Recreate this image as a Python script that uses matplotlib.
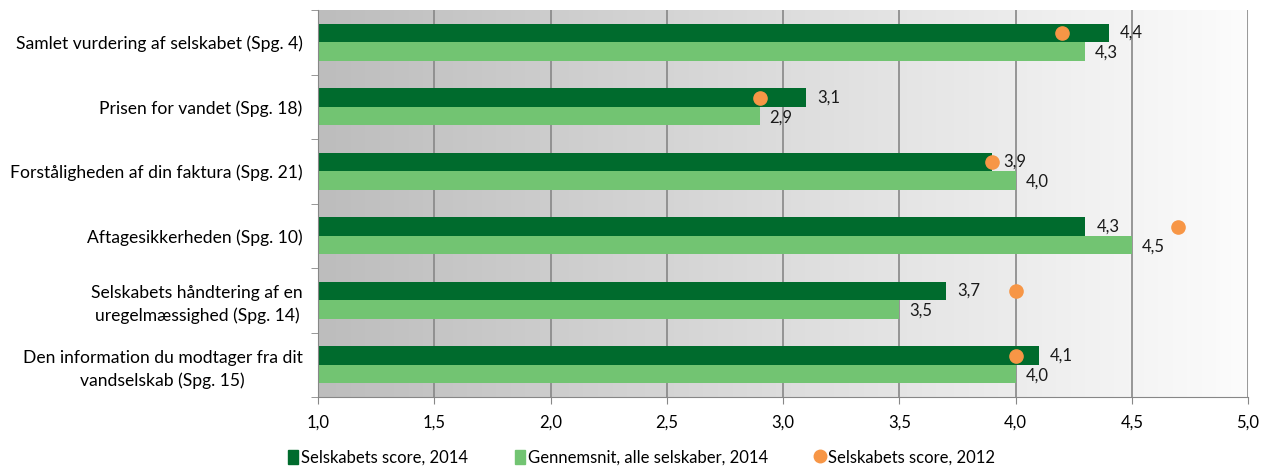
import numpy as np
import matplotlib.pyplot as plt
from matplotlib.colors import LinearSegmentedColormap
from matplotlib.lines import Line2D
from matplotlib.patches import Patch

categories = [
    "Samlet vurdering af selskabet (Spg. 4)",
    "Prisen for vandet (Spg. 18)",
    "Forståligheden af din faktura (Spg. 21)",
    "Aftagesikkerheden (Spg. 10)",
    "Selskabets håndtering af en\nuregelmæssighed (Spg. 14)",
    "Den information du modtager fra dit\nvandselskab (Spg. 15)",
]
score_2014 = [4.4, 3.1, 3.9, 4.3, 3.7, 4.1]
avg_2014 = [4.3, 2.9, 4.0, 4.5, 3.5, 4.0]
score_2012 = [4.2, 2.9, 3.9, 4.7, 4.0, 4.0]
x_ticks = [1.0, 1.5, 2.0, 2.5, 3.0, 3.5, 4.0, 4.5, 5.0]

DARK = "#006B2D"
LIGHT = "#72C472"
ORANGE = "#F79646"
FS = 12

plt.rcParams["font.family"] = ["Lato", "DejaVu Sans"]


def fmt(v):
    return f"{v:.1f}".replace(".", ",")


fig = plt.figure(figsize=(12.63, 4.70), dpi=100)
ax = fig.add_axes([0.2518, 0.1553, 0.7364, 0.8234])

y = np.arange(len(categories))
h = 0.287

# gradient background
cmap = LinearSegmentedColormap.from_list("bg", ["#bdbdbd", "#fcfcfc"])
grad = np.linspace(0, 1, 256).reshape(1, -1)
ax.imshow(grad, extent=[1.0, 5.0, len(categories) - 0.5, -0.5], aspect="auto",
          cmap=cmap, zorder=0)

for xt in x_ticks[1:]:
    ax.axvline(xt, color="#878787", lw=1.2, zorder=1)

ax.barh(y - h / 2, [v - 1.0 for v in score_2014], left=1.0, height=h,
        color=DARK, zorder=2)
ax.barh(y + h / 2, [v - 1.0 for v in avg_2014], left=1.0, height=h,
        color=LIGHT, zorder=2)
ax.plot(score_2012, y - h / 2, "o", color=ORANGE, markersize=9.5, zorder=4,
        linestyle="none")

for i in range(len(categories)):
    ax.annotate(fmt(score_2014[i]), (score_2014[i], y[i] - h / 2),
                xytext=(8, 0), textcoords="offset points", ha="left",
                va="center", fontsize=FS, color="#1a1a1a", zorder=5)
    ax.annotate(fmt(avg_2014[i]), (avg_2014[i], y[i] + h / 2),
                xytext=(7, -1), textcoords="offset points", ha="left",
                va="center", fontsize=FS, color="#1a1a1a", zorder=5)

ax.set_xlim(1.0, 5.0)
ax.set_ylim(len(categories) - 0.5, -0.5)
ax.set_xticks(x_ticks)
ax.set_xticklabels([fmt(v) for v in x_ticks], fontsize=FS)
ax.set_yticks(y)
ax.set_yticklabels(categories, fontsize=12.6, ha="right",
                   multialignment="center", linespacing=1.45)
ax.tick_params(axis="y", which="major", length=0, pad=11)
ax.set_yticks(np.arange(-0.5, len(categories)), minor=True)
ax.tick_params(axis="y", which="minor", length=5, color="#878787")
ax.tick_params(axis="x", length=5, color="#878787", pad=8)

for s in ["top", "right"]:
    ax.spines[s].set_visible(False)
for s in ["left", "bottom"]:
    ax.spines[s].set_color("#878787")

handles = [
    Patch(color=DARK, label="Selskabets score, 2014"),
    Patch(color=LIGHT, label="Gennemsnit, alle selskaber, 2014"),
    Line2D([], [], marker="o", color=ORANGE, linestyle="none", markersize=9,
           label="Selskabets score, 2012"),
]
fig.legend(handles=handles, loc="lower center", bbox_to_anchor=(0.508, -0.022),
           ncol=3, frameon=False, fontsize=FS, handlelength=0.6,
           handleheight=0.9, handletextpad=0.2, columnspacing=2.8)

fig.savefig("out.png", dpi=100)
